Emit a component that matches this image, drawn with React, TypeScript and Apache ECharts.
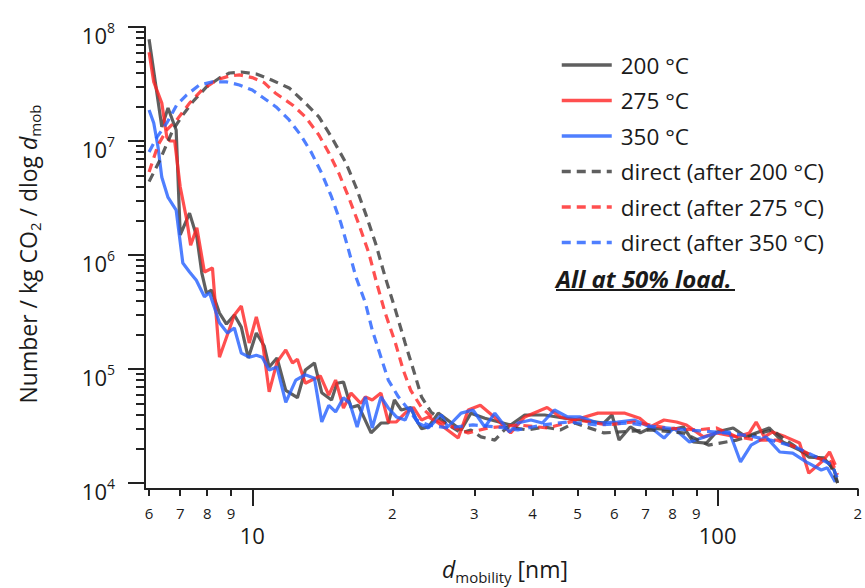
import React, { useEffect, useRef } from 'react';
import * as echarts from 'echarts';

// ---------- data (d_mobility [nm], Number / kg CO2 / dlog d_mob) ----------
const series200: number[][] = [
  [6.0, 7.8e7], [6.39, 1.33e7], [6.59, 1.95e7], [6.86, 1.25e7], [7.0, 1.5e6], [7.33, 2.33e6], [7.6, 1.44e6],
  [7.79, 6.95e5], [7.97, 4.64e5], [8.17, 4.93e5], [8.5, 3.1e5], [8.8, 2.48e5], [9.15, 2.98e5], [9.47, 2.33e5],
  [9.8, 1.25e5], [10.2, 2.07e5], [10.6, 1.6e5], [10.87, 1.04e5], [11.3, 1.25e5], [11.8, 6.5e4], [12.5, 5.6e4],
  [13.0, 9.8e4], [13.6, 1.13e5], [14.1, 6.2e4], [14.8, 5.35e4], [15.2, 7.5e4], [15.7, 7.7e4], [16.3, 4.6e4],
  [16.9, 4.8e4], [18.0, 2.75e4], [18.9, 3.36e4], [19.6, 3.36e4], [20.2, 5.35e4], [20.9, 4.37e4], [21.9, 4.6e4],
  [22.4, 3.7e4], [23.1, 3.0e4], [23.9, 3.1e4], [25.1, 4.1e4], [28.1, 2.92e4], [29.5, 4.1e4], [31.6, 3.7e4],
  [35.9, 3.23e4], [38.5, 3.95e4], [42.5, 3.95e4], [46.9, 3.7e4], [50.7, 3.57e4], [57.0, 3.36e4], [59.3, 3.95e4],
  [61.4, 2.38e4], [64.9, 3.1e4], [68.2, 2.75e4], [71.6, 3.04e4], [79.0, 2.92e4], [84.4, 3.1e4], [88.7, 2.29e4],
  [94.6, 2.24e4], [99.4, 2.8e4], [108, 3.04e4], [115, 2.54e4], [129, 3.04e4], [138, 2.29e4], [150, 1.95e4],
  [157, 1.69e4], [169, 1.66e4], [178, 1.3e4], [181, 1.0e4],
];

const series275: number[][] = [
  [6.0, 6.0e7], [6.14, 3.3e7], [6.39, 2.15e7], [6.55, 1.08e7], [6.65, 1.0e7], [6.81, 1.0e7], [7.0, 3.95e6],
  [7.23, 2.03e6], [7.37, 1.22e6], [7.6, 1.73e6], [7.89, 7.1e5], [8.21, 7.7e5], [8.5, 1.27e5], [8.84, 2.0e5],
  [9.15, 2.98e5], [9.47, 3.57e5], [9.85, 1.69e5], [10.2, 2.86e5], [10.5, 1.8e5], [10.87, 6.3e4], [11.3, 1.15e5],
  [11.8, 1.47e5], [12.2, 1.13e5], [12.5, 1.22e5], [13.0, 7.5e4], [14.0, 8.7e4], [14.6, 5.9e4], [15.1, 8.0e4],
  [15.7, 4.55e4], [16.3, 6.15e4], [17.1, 5.0e4], [17.5, 5.7e4], [18.1, 5.35e4], [18.9, 6.15e4], [19.6, 3.43e4],
  [20.4, 3.43e4], [21.3, 4.1e4], [22.2, 4.6e4], [23.1, 3.57e4], [23.9, 3.8e4], [25.1, 3.36e4], [27.7, 2.48e4],
  [29.1, 4.37e4], [30.9, 4.8e4], [33.7, 3.57e4], [35.9, 2.75e4], [38.5, 3.8e4], [43.0, 4.6e4], [45.9, 3.8e4],
  [49.3, 3.57e4], [55.3, 4.1e4], [63.2, 4.1e4], [68.0, 3.7e4], [71.6, 3.1e4], [76.7, 3.57e4], [81.6, 3.43e4],
  [85.7, 3.23e4], [93.2, 2.54e4], [99.4, 2.75e4], [110, 2.54e4], [117, 2.75e4], [121, 3.43e4], [126, 2.54e4],
  [131, 2.8e4], [140, 2.54e4], [150, 2.24e4], [157, 1.22e4], [169, 1.59e4], [174, 1.87e4], [179, 1.44e4],
];

const series350: number[][] = [
  [6.0, 1.87e7], [6.14, 1.44e7], [6.27, 8.9e6], [6.39, 4.8e6], [6.59, 3.2e6], [6.86, 2.48e6], [7.09, 8.5e5],
  [7.33, 7.1e5], [7.58, 6.0e5], [7.89, 4.3e5], [8.09, 4.66e5], [8.5, 2.54e5], [8.84, 2.07e5], [9.15, 2.29e5],
  [9.47, 1.38e5], [9.85, 1.27e5], [10.2, 1.32e5], [10.5, 1.27e5], [10.87, 9.8e4], [11.3, 1.04e5], [11.8, 5.1e4],
  [12.4, 8.0e4], [13.0, 8.9e4], [13.6, 8.3e4], [14.1, 3.43e4], [14.6, 4.8e4], [15.1, 4.2e4], [15.7, 5.6e4],
  [16.2, 5.0e4], [16.8, 3.1e4], [17.5, 5.7e4], [18.1, 3.04e4], [18.9, 5.7e4], [19.6, 4.55e4], [20.4, 3.8e4],
  [21.3, 3.57e4], [21.9, 4.6e4], [22.7, 3.36e4], [23.9, 3.04e4], [25.5, 3.95e4], [26.3, 3.1e4], [28.1, 4.1e4],
  [29.8, 4.37e4], [31.6, 3.1e4], [33.2, 4.1e4], [35.7, 2.8e4], [37.2, 3.36e4], [39.7, 3.57e4], [42.0, 3.36e4],
  [44.6, 4.37e4], [47.6, 3.8e4], [50.7, 3.8e4], [55.3, 3.36e4], [60.9, 3.43e4], [66.2, 3.57e4], [71.6, 3.1e4],
  [76.7, 2.48e4], [80.5, 3.04e4], [87.0, 2.29e4], [101, 2.8e4], [106, 2.8e4], [112, 1.53e4], [118, 2.15e4],
  [127, 2.54e4], [136, 1.87e4], [145, 1.83e4], [155, 1.53e4], [167, 1.3e4], [172, 1.36e4], [179, 1.02e4],
];

const direct200: number[][] = [
  [6.0, 4.4e6], [6.33, 6.8e6], [6.75, 1.25e7], [7.09, 1.69e7], [7.44, 2.2e7], [7.97, 2.98e7], [8.5, 3.57e7],
  [8.93, 3.95e7], [9.47, 4.03e7], [10.2, 3.87e7], [11.0, 3.43e7], [12.0, 2.92e7], [13.0, 2.15e7], [13.9, 1.63e7],
  [14.8, 1.08e7], [15.9, 6.4e6], [16.7, 3.95e6], [17.5, 2.33e6], [18.4, 1.27e6], [19.3, 6.4e5], [20.3, 3.3e5],
  [21.3, 1.69e5], [22.2, 9.8e4], [23.1, 5.7e4], [24.2, 4.2e4], [26.0, 3.36e4], [28.1, 2.75e4], [29.5, 2.92e4],
  [31.0, 2.54e4], [33.2, 2.38e4], [35.3, 3.1e4], [39.1, 2.92e4], [42.5, 3.1e4], [45.9, 2.92e4], [49.3, 3.36e4],
  [57.0, 2.75e4], [71.6, 2.92e4], [84.4, 2.75e4], [95.6, 2.15e4], [110, 2.38e4], [119, 2.62e4], [131, 2.92e4],
  [140, 2.38e4], [153, 1.87e4], [163, 1.69e4], [174, 1.5e4], [181, 1.0e4],
];

const direct275: number[][] = [
  [6.0, 5.35e6], [6.27, 9.2e6], [6.55, 1.25e7], [6.88, 1.53e7], [7.33, 2.15e7], [7.79, 2.8e7], [8.38, 3.43e7],
  [8.93, 3.72e7], [9.38, 3.8e7], [10.0, 3.6e7], [10.6, 3.25e7], [11.2, 2.64e7], [12.2, 2.07e7], [13.0, 1.63e7],
  [13.9, 1.13e7], [14.6, 7.9e6], [15.35, 5.2e6], [16.1, 3.23e6], [16.9, 1.91e6], [17.8, 1.04e6], [18.5, 5.7e5],
  [19.3, 3.1e5], [20.3, 1.69e5], [21.1, 9.8e4], [21.9, 6.5e4], [23.1, 4.6e4], [24.7, 3.57e4], [26.3, 3.23e4],
  [29.1, 2.75e4], [32.1, 3.04e4], [37.2, 3.23e4], [43.1, 3.04e4], [50.0, 3.57e4], [57.9, 3.23e4], [66.0, 3.43e4],
  [77.7, 3.04e4], [90.0, 2.92e4], [99.4, 3.04e4], [110, 2.54e4], [121, 2.38e4], [134, 2.38e4], [147, 2.07e4],
  [163, 1.66e4], [176, 1.53e4], [181, 1.18e4],
];

const direct350: number[][] = [
  [6.0, 8.0e6], [6.24, 1.08e7], [6.55, 1.44e7], [6.88, 2.07e7], [7.23, 2.54e7], [7.7, 3.1e7], [8.21, 3.3e7],
  [8.8, 3.3e7], [9.38, 3.1e7], [10.0, 2.8e7], [10.5, 2.43e7], [11.25, 1.99e7], [12.0, 1.53e7], [12.7, 1.13e7],
  [13.4, 7.9e6], [14.1, 5.2e6], [14.8, 3.23e6], [15.5, 1.91e6], [16.1, 1.11e6], [16.7, 6.4e5], [17.5, 3.8e5],
  [18.1, 2.2e5], [18.9, 1.27e5], [19.6, 8.0e4], [20.6, 5.7e4], [21.7, 4.37e4], [22.5, 3.57e4], [23.9, 3.23e4],
  [26.3, 3.04e4], [29.8, 3.23e4], [33.7, 3.1e4], [37.2, 2.92e4], [42.0, 3.23e4], [47.6, 3.43e4], [55.3, 3.23e4],
  [64.0, 3.36e4], [74.0, 3.1e4], [85.7, 2.92e4], [99.4, 2.8e4], [115, 2.62e4], [130, 2.38e4], [147, 2.07e4],
  [163, 1.69e4], [176, 1.44e4], [181, 1.1e4],
];

const seriesNames = ['200 °C', '275 °C', '350 °C', 'direct (after 200 °C)', 'direct (after 275 °C)', 'direct (after 350 °C)'];

// ---------- axis ticks ----------
const xMinorTicks = [6, 7, 8, 9, 20, 30, 40, 50, 60, 70, 80, 90, 200];
const xMajorTicks = [10, 100];
const yMajorTicks = [1e4, 1e5, 1e6, 1e7, 1e8];
const yMinorTicks = [
  2e4, 3e4, 4e4, 5e4, 6e4, 7e4, 8e4, 9e4,
  2e5, 3e5, 4e5, 5e5, 6e5, 7e5, 8e5, 9e5,
  2e6, 3e6, 4e6, 5e6, 6e6, 7e6, 8e6, 9e6,
  2e7, 3e7, 4e7, 5e7, 6e7, 7e7, 8e7, 9e7,
];
const X_MIN = 5.88;
const X_MAX = 200;
const Y_MIN = 8860;
const Y_MAX = 1.00001e8;

const FONT = "'Open Sans', 'Noto Sans', sans-serif";
const INK = '#1a1a1a';
const AXIS = '#222222';
const GRAY = 'rgba(60,60,60,0.82)';
const RED = 'rgba(255,35,35,0.8)';
const BLUE = 'rgba(35,95,255,0.8)';
const DASH = [9, 6];

function leadingDigit(v: number): string {
  const p = Math.pow(10, Math.floor(Math.log10(v) + 1e-9));
  return String(Math.round(v / p));
}

export default function App() {
  const ref = useRef<HTMLDivElement>(null);

  useEffect(() => {
    if (!ref.current) return;
    const chart = echarts.init(ref.current, undefined, { renderer: 'svg' });

    const tickLine = { color: AXIS, width: 2 };
    const mk = (name: string, data: number[][], color: string, dashed: boolean) => ({
      name,
      type: 'line',
      data,
      xAxisIndex: 0,
      yAxisIndex: 0,
      symbol: 'none',
      showSymbol: false,
      lineStyle: { color, width: 3.2, type: dashed ? DASH : 'solid' },
      itemStyle: { color },
      emphasis: { disabled: true },
    });

    const option: any = {
      animation: false,
      grid: { left: 145, top: 27, width: 717, height: 462, containLabel: false },
      legend: {
        orient: 'vertical',
        left: 560,
        top: 53,
        padding: 0,
        itemWidth: 50,
        itemHeight: 14,
        itemGap: 11.5,
        selectedMode: false,
        itemStyle: { opacity: 0 },
        lineStyle: { width: 3.5 },
        textStyle: { fontSize: 22.5, fontFamily: FONT, color: INK, lineHeight: 24, padding: [0, 0, 0, 4] },
        data: seriesNames,
      },
      xAxis: [
        {
          type: 'log',
          position: 'bottom',
          min: X_MIN,
          max: X_MAX,
          axisLine: { show: true, lineStyle: { color: AXIS, width: 2 } },
          splitLine: { show: false },
          minorTick: { show: false },
          axisTick: { show: true, inside: false, length: 7, lineStyle: tickLine, customValues: xMinorTicks },
          axisLabel: {
            customValues: xMinorTicks,
            margin: 16,
            fontSize: 15,
            fontFamily: FONT,
            color: INK,
            formatter: (v: number) => leadingDigit(v),
          },
        },
        {
          type: 'log',
          position: 'bottom',
          min: X_MIN,
          max: X_MAX,
          axisLine: { show: false },
          splitLine: { show: false },
          minorTick: { show: false },
          axisTick: { show: true, inside: false, length: 17, lineStyle: tickLine, customValues: xMajorTicks },
          axisLabel: {
            customValues: xMajorTicks,
            margin: 35,
            fontSize: 22,
            fontFamily: FONT,
            color: INK,
            formatter: (v: number) => String(Math.round(v)),
          },
        },
      ],
      yAxis: [
        {
          type: 'log',
          position: 'left',
          min: Y_MIN,
          max: Y_MAX,
          axisLine: { show: true, lineStyle: { color: AXIS, width: 2 } },
          splitLine: { show: false },
          minorTick: { show: false },
          axisTick: { show: true, inside: false, length: 17, lineStyle: tickLine, customValues: yMajorTicks },
          axisLabel: {
            customValues: yMajorTicks,
            margin: 30,
            color: INK,
            fontFamily: FONT,
            formatter: (v: number) => `{b|10}{s|${Math.round(Math.log10(v))}}`,
            rich: {
              b: { fontSize: 22, lineHeight: 22, padding: [16, 0, 0, 0], fontFamily: FONT, color: INK },
              s: { fontSize: 14, lineHeight: 14, padding: [4, 0, 0, 0], verticalAlign: 'top', fontFamily: FONT, color: INK },
            },
          },
        },
        {
          type: 'log',
          position: 'left',
          min: Y_MIN,
          max: Y_MAX,
          axisLine: { show: false },
          splitLine: { show: false },
          minorTick: { show: false },
          axisTick: { show: true, inside: false, length: 9, lineStyle: tickLine, customValues: yMinorTicks },
          axisLabel: { show: false },
        },
      ],
      series: [
        mk(seriesNames[0], series200, GRAY, false),
        mk(seriesNames[1], series275, RED, false),
        mk(seriesNames[2], series350, BLUE, false),
        mk(seriesNames[3], direct200, GRAY, true),
        mk(seriesNames[4], direct275, RED, true),
        mk(seriesNames[5], direct350, BLUE, true),
      ],
      graphic: [
        {
          type: 'text',
          x: 28,
          y: 254,
          rotation: Math.PI / 2,
          style: {
            text: 'Number / kg CO{sub|2} / dlog {it|d}{sub|mob}',
            fontSize: 23,
            fontFamily: FONT,
            fill: INK,
            align: 'center',
            verticalAlign: 'middle',
            rich: {
              sub: { fontSize: 15, lineHeight: 15, padding: [14, 0, 0, 0], fontFamily: FONT, fill: INK },
              it: { fontSize: 23, fontStyle: 'italic', fontFamily: FONT, fill: INK },
            },
          },
        },
        {
          type: 'text',
          x: 505,
          y: 569,
          style: {
            text: '{it|d}{sub|mobility} [nm]',
            fontSize: 23,
            fontFamily: FONT,
            fill: INK,
            align: 'center',
            verticalAlign: 'middle',
            rich: {
              it: { fontSize: 23, fontStyle: 'italic', fontFamily: FONT, fill: INK },
              sub: { fontSize: 15, lineHeight: 15, padding: [16, 0, 0, 0], fontFamily: FONT, fill: INK },
            },
          },
        },
        {
          type: 'text',
          x: 556,
          y: 278,
          style: {
            text: 'All at 50% load.',
            fontSize: 24,
            fontWeight: 'bold',
            fontStyle: 'italic',
            fontFamily: FONT,
            fill: INK,
            align: 'left',
            verticalAlign: 'middle',
          },
        },
        {
          type: 'line',
          shape: { x1: 556, y1: 290, x2: 735, y2: 290 },
          style: { stroke: INK, lineWidth: 2 },
        },
      ],
    };

    chart.setOption(option);
    return () => chart.dispose();
  }, []);

  return (
    <div
      ref={ref}
      style={{ position: 'absolute', left: 0, top: 0, width: 865, height: 588, background: '#ffffff' }}
    />
  );
}
